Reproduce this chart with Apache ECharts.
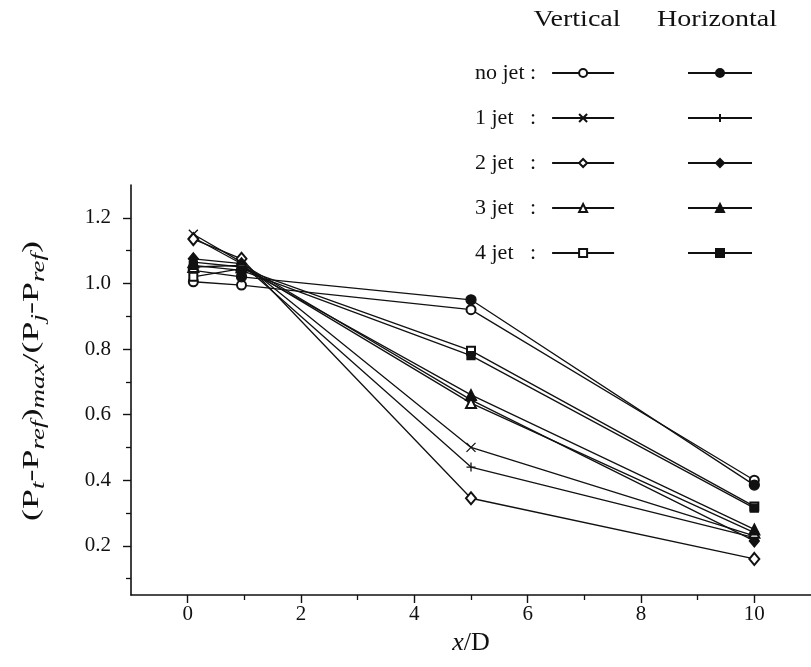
<!DOCTYPE html>
<html><head><meta charset="utf-8">
<script src="https://cdn.jsdelivr.net/npm/echarts@6/dist/echarts.min.js"></script>
<style>html,body{margin:0;padding:0;background:#fff}#c{width:811px;height:667px}</style>
</head><body><div id="c"></div>
<script>
// ---- data ----
const xPos = [0.1, 0.95, 5, 10];
const noJetV = [1.005, 0.995, 0.92, 0.40];
const noJetH = [1.04, 1.02, 0.95, 0.385];
const jet1V  = [1.15, 1.065, 0.50, 0.23];
const jet1H  = [1.14, 1.06, 0.44, 0.225];
const jet2V  = [1.135, 1.075, 0.345, 0.16];
const jet2H  = [1.075, 1.06, 0.645, 0.215];
const jet3V  = [1.05, 1.055, 0.635, 0.24];
const jet3H  = [1.065, 1.05, 0.66, 0.25];
const jet4V  = [1.02, 1.045, 0.795, 0.32];
const jet4H  = [1.055, 1.04, 0.78, 0.315];

const xMajorTicks = [0, 2, 4, 6, 8, 10];
const xMinorTicks = [1, 3, 5, 7, 9];
const yMajorTicks = [0.2, 0.4, 0.6, 0.8, 1.0, 1.2];
const yMinorTicks = [0.1, 0.3, 0.5, 0.7, 0.9, 1.1];

const vNames = ['no jet :  ', '1 jet   :  ', '2 jet   :  ', '3 jet   :  ', '4 jet   :  '];
const hNames = ['no jet (H)', '1 jet (H)', '2 jet (H)', '3 jet (H)', '4 jet (H)'];
const colHeaders = ['Vertical', 'Horizontal'];

// ---- styling ----
const FONT = 'Liberation Serif';
const INK = '#111';
const CROSS = 'path://M0,0L10,10M0,10L10,0';
const PLUS = 'path://M5,0L5,10M0,5L10,5';

const defs = [
  [vNames[0], noJetV, 'emptyCircle', 9],
  [hNames[0], noJetH, 'circle', 10],
  [vNames[1], jet1V, CROSS, 9],
  [hNames[1], jet1H, PLUS, 9],
  [vNames[2], jet2V, 'emptyDiamond', [10, 12]],
  [hNames[2], jet2H, 'diamond', [10, 12]],
  [vNames[3], jet3V, 'emptyTriangle', 10],
  [hNames[3], jet3H, 'triangle', 11],
  [vNames[4], jet4V, 'emptyRect', 8],
  [hNames[4], jet4H, 'rect', 8]
];

const series = defs.map(([name, vals, sym, size]) => ({
  type: 'line',
  name: name,
  data: xPos.map((x, i) => [x, vals[i]]),
  symbol: sym,
  symbolSize: size,
  showAllSymbol: true,
  lineStyle: {color: INK, width: 1.3},
  itemStyle: {color: INK, borderColor: INK, borderWidth: 1.3},
  emphasis: {disabled: true}
}));

const axisFont = {fontFamily: FONT, fontSize: 21, color: INK};
const legendText = {fontFamily: FONT, fontSize: 22, color: INK, lineHeight: 26};

const option = {
  animation: false,
  backgroundColor: '#fff',
  grid: {left: 131, right: 0, top: 185, bottom: 72, containLabel: false},
  xAxis: [
    {
      type: 'value', min: -1, max: 11, position: 'bottom',
      axisLine: {show: true, onZero: false, lineStyle: {color: INK, width: 1.6}},
      axisTick: {show: true, customValues: xMajorTicks, length: 8, lineStyle: {color: INK, width: 1.4}},
      axisLabel: Object.assign({customValues: xMajorTicks, margin: 9}, axisFont),
      splitLine: {show: false},
      name: '{i|x}{n|/D}',
      nameLocation: 'middle', nameGap: 31,
      nameTextStyle: {rich: {
        i: {fontFamily: FONT, fontSize: 26, fontStyle: 'italic', color: INK},
        n: {fontFamily: FONT, fontSize: 26, color: INK}
      }}
    },
    {
      type: 'value', min: -1, max: 11, position: 'bottom',
      axisLine: {show: false, onZero: false},
      axisTick: {show: true, customValues: xMinorTicks, length: 5, lineStyle: {color: INK, width: 1.3}},
      axisLabel: {show: false},
      splitLine: {show: false}
    }
  ],
  yAxis: [
    {
      type: 'value', min: 0.05, max: 1.3, position: 'left',
      axisLine: {show: true, onZero: false, lineStyle: {color: INK, width: 1.6}},
      axisTick: {show: true, customValues: yMajorTicks, length: 8, lineStyle: {color: INK, width: 1.4}},
      axisLabel: Object.assign({customValues: yMajorTicks, margin: 20, formatter: v => v.toFixed(1)}, axisFont),
      splitLine: {show: false}
    },
    {
      type: 'value', min: 0.05, max: 1.3, position: 'left',
      axisLine: {show: false, onZero: false},
      axisTick: {show: true, customValues: yMinorTicks, length: 5, lineStyle: {color: INK, width: 1.3}},
      axisLabel: {show: false},
      splitLine: {show: false}
    }
  ],
  legend: [
    {
      data: vNames, orient: 'vertical', left: 470, top: 55, align: 'right',
      itemWidth: 62, itemHeight: 10, itemGap: 19, selectedMode: false,
      textStyle: legendText
    },
    {
      data: hNames, orient: 'vertical', left: 682, top: 55, align: 'left',
      itemWidth: 64, itemHeight: 10, itemGap: 19, selectedMode: false,
      formatter: () => ' ',
      textStyle: legendText
    }
  ],
  graphic: [
    {type: 'text', x: 577, y: 20, scaleX: 1.22, silent: true,
     style: {text: colHeaders[0], fontFamily: FONT, fontSize: 23, fill: INK, align: 'center', verticalAlign: 'middle', textAlign: 'center', textVerticalAlign: 'middle'}},
    {type: 'text', x: 717, y: 20, scaleX: 1.22, silent: true,
     style: {text: colHeaders[1], fontFamily: FONT, fontSize: 23, fill: INK, align: 'center', verticalAlign: 'middle', textAlign: 'center', textVerticalAlign: 'middle'}},
    {type: 'text', x: 32, y: 381, rotation: Math.PI / 2, scaleX: 1.5, silent: true,
     style: {
       text: '{b|(P}{s|t}{b|-P}{s|ref}{b|)}{s|max}{b|/(P}{s|j}{b|-P}{s|ref}{b|)}',
       align: 'center', verticalAlign: 'middle', textAlign: 'center', textVerticalAlign: 'middle',
       fill: INK,
       rich: {
         b: {fontFamily: FONT, fontSize: 24, lineHeight: 32, fill: INK, verticalAlign: 'middle'},
         s: {fontFamily: FONT, fontSize: 18, fontStyle: 'italic', lineHeight: 18, fill: INK, verticalAlign: 'bottom'}
       }
     }}
  ],
  series: series
};

const chart = echarts.init(document.getElementById('c'), null, {renderer: 'canvas'});
chart.setOption(option);
</script>
</body></html>
